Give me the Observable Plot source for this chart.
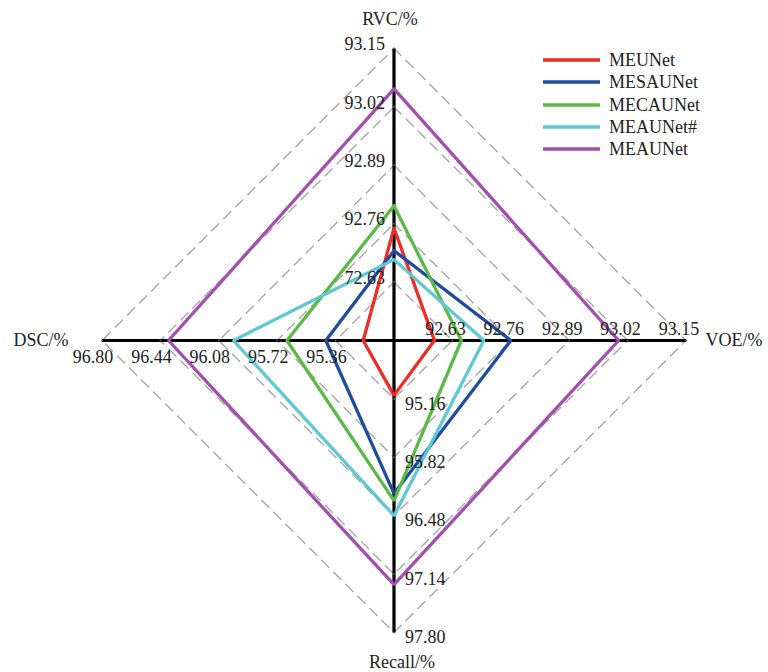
<!DOCTYPE html>
<html>
<head>
<meta charset="utf-8">
<script src="https://cdn.jsdelivr.net/npm/d3@7"></script>
<script src="https://cdn.jsdelivr.net/npm/@observablehq/plot@0.6"></script>
<style>
  html, body { margin: 0; padding: 0; background: #fff; overflow: hidden; }
  #wrap { position: relative; width: 768px; height: 672px; }
  #wrap svg text { font-family: "Liberation Serif", "Times New Roman", serif !important; }
  #legend { position: absolute; left: 543px; top: 49px; font-family: "Liberation Serif", "Times New Roman", serif; font-size: 18px; color: #222; }
  .row { height: 22.3px; line-height: 22.3px; display: flex; align-items: center; white-space: nowrap; }
  .row svg { margin-right: 9px; }
</style>
</head>
<body>
<div id="wrap"><div id="legend"></div></div>
<script>
// ---- data ----
const axes = ["RVC/%", "VOE/%", "Recall/%", "DSC/%"];
const axisMin = [92.50, 92.50, 94.50, 95.00];
const axisMax = [93.15, 93.15, 97.80, 96.80];
const series = ["MEUNet", "MESAUNet", "MECAUNet", "MEAUNet#", "MEAUNet"];
const colors = ["#ee2b24", "#1f4c9f", "#5cb947", "#5fc9d3", "#a24fae"];
const rvc = [92.75, 92.70, 92.80, 92.68, 93.06];
const voe = [92.59, 92.76, 92.65, 92.70, 93.00];
const recall = [95.12, 96.23, 96.31, 96.48, 97.26];
const dsc = [95.19, 95.42, 95.66, 95.99, 96.39];
const rvcTicks = ["72.63", "92.76", "92.89", "93.02", "93.15"];
const voeTicks = ["92.63", "92.76", "92.89", "93.02", "93.15"];
const recallTicks = ["95.16", "95.82", "96.48", "97.14", "97.80"];
const dscTicks = ["95.36", "95.72", "96.08", "96.44", "96.80"];
const levels = [0.2, 0.4, 0.6, 0.8, 1.0];

// ---- derived ----
const dirs = [[0, 1], [1, 0], [0, -1], [-1, 0]];
const values = [rvc, voe, recall, dsc];
const norm = (a, v) => (v - axisMin[a]) / (axisMax[a] - axisMin[a]);

const polys = [];
series.forEach((s, i) => {
  [0, 1, 2, 3, 0].forEach((a, k) => {
    const r = norm(a, values[a][i]);
    polys.push({series: s, k, x: r * dirs[a][0], y: r * dirs[a][1]});
  });
});

const grid = [];
levels.forEach(l => {
  [0, 1, 2, 3, 0].forEach((a, k) => grid.push({level: l, k, x: l * dirs[a][0], y: l * dirs[a][1]}));
});

const axisLines = [
  {x1: -1, y1: 0, x2: 1, y2: 0},
  {x1: 0, y1: -1, x2: 0, y2: 1}
];

const tickLists = [rvcTicks, voeTicks, recallTicks, dscTicks];
const tickData = tickLists.map((ticks, a) => ticks.map((t, j) => ({
  a, label: t, x: levels[j] * dirs[a][0], y: levels[j] * dirs[a][1]
})));

const titles = axes.map((t, a) => ({label: t, a, x: dirs[a][0], y: dirs[a][1]}));

const font = "Liberation Serif";
const txt = {fontFamily: font, fontSize: 18, fill: "#222"};

const chart = Plot.plot({
  width: 768,
  height: 672,
  marginLeft: 101.5,
  marginRight: 82.5,
  marginTop: 48,
  marginBottom: 40,
  style: {fontFamily: "Liberation Serif, serif"},
  x: {domain: [-1, 1], axis: null},
  y: {domain: [-1, 1], axis: null},
  color: {domain: series, range: colors},
  marks: [
    Plot.line(grid, {x: "x", y: "y", z: "level", stroke: "#a8a8a8", strokeWidth: 1.4, strokeDasharray: "10,7"}),
    Plot.link(axisLines, {x1: "x1", y1: "y1", x2: "x2", y2: "y2", stroke: "#000", strokeWidth: 3.2}),
    Plot.dot(tickData.flat(), {x: "x", y: "y", r: 1, fill: "#555", stroke: null}),
    Plot.line(polys, {x: "x", y: "y", z: "series", stroke: "series", strokeWidth: 3.3, strokeLinejoin: "miter"}),
    // tick labels
    Plot.text(tickData[0], {x: "x", y: "y", text: "label", textAnchor: "end", dx: -9, dy: -4, ...txt}),
    Plot.text(tickData[1], {x: "x", y: "y", text: "label", textAnchor: "middle", dx: -7, dy: -11, ...txt}),
    Plot.text(tickData[2], {x: "x", y: "y", text: "label", textAnchor: "start", dx: 11, dy: 5, ...txt}),
    Plot.text(tickData[3], {x: "x", y: "y", text: "label", textAnchor: "middle", dx: -9, dy: 17, ...txt}),
    // axis titles
    Plot.text([titles[0]], {x: "x", y: "y", text: "label", dy: -29, dx: -4, ...txt}),
    Plot.text([titles[1]], {x: "x", y: "y", text: "label", dx: 48, ...txt}),
    Plot.text([titles[2]], {x: "x", y: "y", text: "label", dy: 30, dx: 8, ...txt}),
    Plot.text([titles[3]], {x: "x", y: "y", text: "label", dx: -61, ...txt})
  ]
});
document.getElementById("wrap").prepend(chart);

const legend = document.getElementById("legend");
series.forEach((s, i) => {
  const row = document.createElement("div");
  row.className = "row";
  row.innerHTML = `<svg width="57" height="6"><line x1="0" y1="3" x2="57" y2="3" stroke="${colors[i]}" stroke-width="3.5"/></svg><span>${s}</span>`;
  legend.appendChild(row);
});
</script>
</body>
</html>
